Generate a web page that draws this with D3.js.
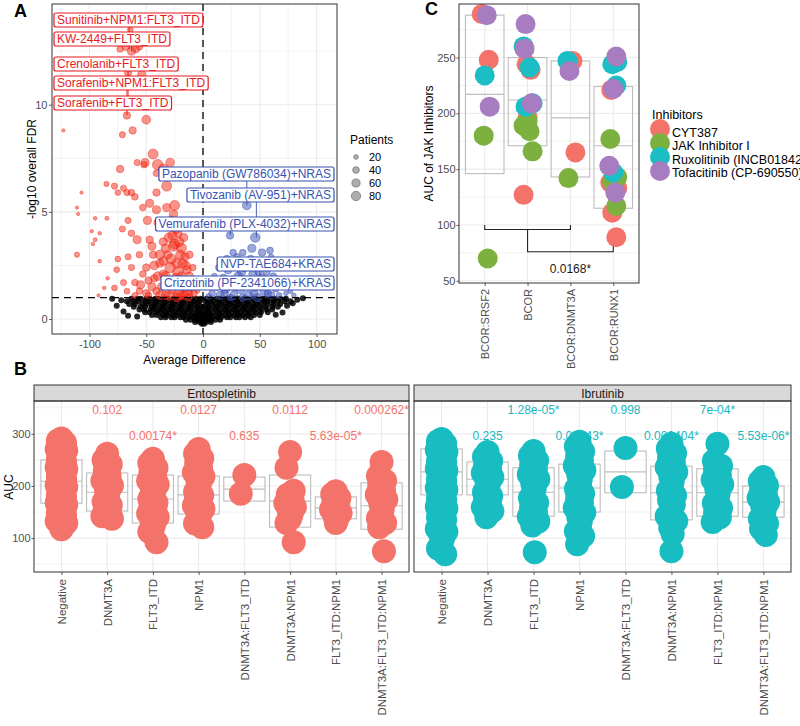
<!DOCTYPE html>
<html>
<head>
<meta charset="utf-8">
<script src="https://cdn.jsdelivr.net/npm/d3@7/dist/d3.min.js"></script>
<style>
  body { margin: 0; background: #fff; }
  svg { font-family: "Liberation Sans", Arial, sans-serif; }
</style>
</head>
<body>
<svg id="fig" width="800" height="726"></svg>
<script>
// ---------------- Panel A: volcano (avg difference, -log10 FDR, patients) ----------------
const redPts = [
  [-64,13.5,30],[-73,12.6,40],[-68,12.7,50],[-63,12.5,60],[-59,12.6,50],[-56,12.7,40],[-61,12.9,30],
  [-66,11.5,50],[-54,11.4,60],[-69,10.9,30],[-67,10.2,40],
  [-123,8.8,10],[-67,9.5,50],[-50,9.3,70],[-71,8.6,35],[-62,8.8,50],[-44,7.7,90],[-52,7.2,40],[-40,7.2,100],[-29,7.3,70],
  [-107,5.9,10],[-85,6.3,25],[-111,5.2,10],[-110,4.9,10],[-95,4.7,12],[-84.6,4.7,15],[-98,4.1,10],[-91,4.0,12],
  [-95,3.7,15],[-97,3.5,12],[-111,3.0,25],[-91,2.7,12],[-84,1.9,12],[-87,1.45,12],[-92,1.1,10],
  [-73,7.0,50],[-78,6.2,35],[-70,6.1,35],[-75,5.9,30],[-67,5.9,35],[-63,5.9,40],[-60,5.7,40],[-58,7.3,35],
  [-51,7.3,60],[-41,6.8,40],[-35,7.0,90],[-32,6.2,90],[-41,5.9,50],[-47,5.4,60],[-53,5.2,40],[-41,5.1,60],
  [-32,5.2,60],[-25,5.3,90],[-26,4.9,60],[-49,4.6,60],[-40,4.5,50],[-31,4.3,60],[-66,4.6,35],[-71,4.2,35],
  [-63,4.0,40],[-58,3.7,60],[-47,3.7,50],[-35,3.6,60],[-26,3.4,90],[-19,3.3,90],[-31,3.0,60],[-44,3.0,50],
  [-56,3.0,40],[-66,2.9,35],[-75,2.8,30],[-76,2.3,30],[-63,2.4,35],[-50,2.4,50],[-38,2.6,60],[-23,2.6,90],
  [-14,2.3,60],[-19,2.0,70],[-35,2.1,60],[-48,1.8,50],[-60,1.7,40],[-70,1.7,35],[-78,1.45,30],[-67,1.3,30],
  [-56,1.3,40],[-41,1.3,50],[-27,1.35,60],[-16,1.45,60],[-11.5,1.2,40],[-60,1.1,30],[-48,1.1,40],[-33,1.1,60],
  [-20,1.1,60],[-30,3.8,80],[-25,3.5,90],[-20,3.0,80],[-15,2.5,70],[-12,2.0,60],[-10,1.5,50],[-8,1.2,40],
  [-28,2.8,90],[-22,2.2,100],[-18,1.7,90],[-14,1.3,80],[-33,2.0,80],[-26,1.6,90],[-21,1.2,100],[-30,1.1,90],
  [-36,1.5,80],[-40,2.0,70],[-38,3.0,80],[-33,3.3,70],[-24,4.2,80],[-17,3.8,60],[-12,3.0,50],[-45,1.5,60],
  [-50,1.2,50],[-55,1.6,60],[-43,2.5,70],[-29,2.4,100],[-16,2.9,60],[-9,2.4,40],[-7,1.8,30],[-5,1.3,20],
  [-23,1.0,70],[-13,1.0,50],[-27,3.9,70],[-21,3.6,80],[-18,2.6,80],[-24,1.9,90],[-31,1.6,80],[-35,2.7,70],
  [-28,4.6,70],[-22,4.0,60],[-11,1.7,50],[-17,1.1,70],[-38,1.1,60],[-43,1.9,50],[-53,2.1,40],[-45,3.4,60]
];
const bluePts = [
  [38.6,5.3,70],[23.8,3.9,50],[46,3.8,80],[35,3.1,40],[43,3.3,60],[59,3.2,40],[52,3.1,50],[26.5,3.1,40],[30,2.9,40],
  [8,1.2,40],[12,1.5,50],[15,1.1,60],[18,1.9,60],[20,1.4,70],[22,2.3,60],[25,1.7,70],[27,1.1,60],[29,2.6,50],
  [31,2.0,70],[33,1.4,80],[36,2.4,60],[38,1.8,70],[40,1.1,80],[42,2.8,50],[44,2.1,60],[46,1.5,70],[48,1.0,60],
  [50,2.5,50],[52,1.9,60],[54,1.3,70],[56,2.2,50],[58,1.6,50],[60,1.1,50],[62,2.0,40],[64,1.4,40],[67,1.1,30],
  [70,1.6,30],[73,1.2,20],[77,1.3,20],[80,1.1,20],[5,1.05,30],[10,2.0,30],[14,2.4,40],[17,2.7,40],[21,2.8,50],
  [47,2.7,60],[55,2.7,40],[35,1.0,50],[24,1.0,40],[65,2.6,30],[60,2.9,30],[28,1.5,60],[34,2.2,60],[41,1.6,70],
  [49,2.2,50],[57,1.2,50],[19,1.2,50],[45,1.2,60]
];
// non-significant drugs (FDR > 0.1), sampled from the dense cloud
const blackRows = [
  [0.95, [-63,-58,-55,-50,-47,-42,-39,-34,-31,-26,-23,-18,-15,-10,-6,-2,3,7,12,15,20,23,28,31,36,39,44,47,52,55,60,63,68,73]],
  [0.83, [-67,-61,-57,-51,-48,-43,-40,-35,-32,-27,-24,-19,-16,-11,-8,-3,2,6,9,14,17,22,25,30,33,38,41,46,49,54,57,62,66,72,77]],
  [0.70, [-65,-60,-53,-49,-44,-41,-36,-33,-28,-25,-20,-17,-12,-8,-4,4,8,13,16,21,24,29,32,37,40,45,48,53,57,62,68]],
  [0.57, [-61,-55,-51,-45,-42,-37,-34,-29,-26,-21,-18,-13,-10,-5,-1,1,5,10,13,18,21,26,29,34,37,42,45,50,55,61,66]],
  [0.44, [-56,-52,-46,-43,-38,-35,-30,-27,-22,-19,-14,-11,-6,-3,3,6,11,14,19,22,27,30,35,38,43,46,51,56,61]],
  [0.31, [-51,-47,-41,-38,-33,-30,-25,-22,-17,-14,-9,-5,-2,2,5,9,14,17,22,25,30,33,38,41,46,51,57]],
  [0.19, [-45,-41,-35,-32,-27,-24,-19,-16,-11,-7,-4,-1,1,4,7,12,15,20,23,28,31,35,40,45,50]],
  [0.08, [-37,-33,-28,-25,-20,-17,-12,-8,-5,-2,2,5,8,13,16,21,24,29,32,37,42]],
  [-0.04, [-15,-11,-7,-4,-1,1,4,7,11,15]],
  [-0.14, [-7,-3,0,3,7]],
  [-0.22, [-1,1]]
];
const blackLoose = [[-72,0.88],[-76,0.62],[-70,0.35],[-80,0.95],[-66,0.15],[74,0.62],[79,0.74],[83,0.9],[70,0.3],[64,0.2],[-58,0.12],[88,0.97]];
const redLabels = [
  ["Sunitinib+NPM1:FLT3_ITD", -65, 12.6],
  ["KW-2449+FLT3_ITD", -63, 12.5],
  ["Crenolanib+FLT3_ITD", -66, 10.0],
  ["Sorafenib+NPM1:FLT3_ITD", -67, 9.5],
  ["Sorafenib+FLT3_ITD", -66.5, 10.0]
];
const blueLabels = [
  ["Pazopanib (GW786034)+NRAS", 38.6, 5.3],
  ["Tivozanib (AV-951)+NRAS", 47, 3.8],
  ["Vemurafenib (PLX-4032)+NRAS", 24, 3.9],
  ["NVP-TAE684+KRAS", 50, 1.9],
  ["Crizotinib (PF-2341066)+KRAS", 55, 1.5]
];
const patientBreaks = [20, 40, 60, 80];

// ---------------- Panel B: AUC by mutation group ----------------
const groups = ["Negative","DNMT3A","FLT3_ITD","NPM1","DNMT3A:FLT3_ITD","DNMT3A:NPM1","FLT3_ITD:NPM1","DNMT3A:FLT3_ITD:NPM1"];
const entoAUC = [
  [291,287,283,280,276,271,268,263,259,255,251,247,244,239,236,232,228,224,221,217,213,209,205,202,198,194,191,187,183,179,176,171,168,164,160,156,153,149,145,141,137,133,129,125,121,117],
  [262,250,241,229,219,210,201,193,186,178,170,163,155,148,142,137],
  [252,244,235,227,218,210,203,196,189,181,175,168,161,154,147,140,133,126,119,112,92],
  [271,262,253,244,235,226,218,211,203,196,189,182,176,169,162,156,149,142,135,128,121],
  [221,185],
  [265,235,191,183,175,167,159,151,144,137,129,92],
  [190,184,177,169,162,155,148,141,135,129],
  [246,219,210,201,192,183,174,165,156,147,138,129,121,75]
];
const ibruAUC = [
  [290,286,281,277,274,269,265,261,257,253,248,245,241,236,233,229,225,221,216,213,209,205,201,196,193,189,185,181,176,173,169,165,160,157,153,149,144,140,135,130,124,118,112,106,98,90,80,69],
  [265,256,248,240,232,225,217,210,203,196,188,181,174,166,159,152,140],
  [267,258,249,240,231,222,213,204,195,186,177,168,159,150,141,132,124,73],
  [285,276,266,257,248,239,230,221,212,203,194,185,176,167,158,149,140,131,122,113,104,88],
  [273,198],
  [281,272,263,254,245,236,227,218,209,200,191,182,173,164,142,133,120,108,75],
  [281,248,239,230,221,212,203,194,185,176,167,158,149,140,131],
  [217,209,201,193,185,177,169,161,153,145,137,128,118,106]
];
// [q1, median, q3]
const entoBox = [[167,209,250],[152,188,225],[129,175,221],[146,183,219],[171,194,217],[121,171,221],[137,158,179],[117,162,206]];
const ibruBox = [[183,227,271],[183,213,246],[142,188,235],[150,196,242],[187,227,267],[135,187,238],[142,187,233],[140,169,200]];
const entoP = ["","0.102","0.00174*","0.0127","0.635","0.0112","5.63e-05*","0.000262*"];
const entoPy = [null,346,296,346,296,346,296,346];
const ibruP = ["","0.235","1.28e-05*","0.00143*","0.998","0.000404*","7e-04*","5.53e-06*"];
const ibruPy = [null,296,346,296,346,296,346,296];

// ---------------- Panel C: JAK inhibitors in BCOR groups ----------------
const bcorGroups = ["BCOR:SRSF2","BCOR","BCOR:DNMT3A","BCOR:RUNX1"];
const inhibitors = ["CYT387","JAK Inhibitor I","Ruxolitinib (INCB018424)","Tofacitinib (CP-690550)"];
const aucCYT387 = [["BCOR:SRSF2",289],["BCOR:SRSF2",248],["BCOR",244],["BCOR",239],["BCOR",196],["BCOR",127],["BCOR:DNMT3A",247],["BCOR:DNMT3A",165],["BCOR:RUNX1",221],["BCOR:RUNX1",138],["BCOR:RUNX1",133],["BCOR:RUNX1",111],["BCOR:RUNX1",89]];
const aucJAKI = [["BCOR:SRSF2",180],["BCOR:SRSF2",70],["BCOR",193],["BCOR",189],["BCOR",184],["BCOR",166],["BCOR:DNMT3A",142],["BCOR:RUNX1",177],["BCOR:RUNX1",143],["BCOR:RUNX1",139],["BCOR:RUNX1",117]];
const aucRuxo = [["BCOR:SRSF2",234],["BCOR",260],["BCOR",241],["BCOR",209],["BCOR",206],["BCOR:DNMT3A",247],["BCOR:RUNX1",246],["BCOR:RUNX1",244],["BCOR:RUNX1",225],["BCOR:RUNX1",147]];
const aucTofa = [["BCOR:SRSF2",288],["BCOR:SRSF2",206],["BCOR",280],["BCOR",258],["BCOR",209],["BCOR:DNMT3A",238],["BCOR:RUNX1",251],["BCOR:RUNX1",222],["BCOR:RUNX1",153],["BCOR:RUNX1",129]];
const bcorBox = [[146,217,288],[171,212,250],[143,196,247],[115,171,224]];

// ---------------- drawing ----------------
const FONT = '"Liberation Sans", Arial, sans-serif';
const TXT = "#4d4d4d", GRID = "#ebebeb", FRAME = "#333";
const svg = d3.select("#fig");
svg.append("rect").attr("width", 800).attr("height", 726).attr("fill", "#fff");
const defs = svg.append("defs");

function clipRect(id, x0, y0, x1, y1) {
  defs.append("clipPath").attr("id", id)
    .append("rect").attr("x", x0).attr("y", y0).attr("width", x1 - x0).attr("height", y1 - y0);
}

function drawGrid(g, xs, ys, xMaj, xMin, yMaj, yMin) {
  const [x0, x1] = xs.range(), [y1, y0] = ys.range();
  const gg = g.append("g");
  xMin.forEach(v => gg.append("line").attr("x1", xs(v)).attr("x2", xs(v)).attr("y1", y0).attr("y2", y1).attr("stroke", GRID).attr("stroke-width", 0.6));
  yMin.forEach(v => gg.append("line").attr("x1", x0).attr("x2", x1).attr("y1", ys(v)).attr("y2", ys(v)).attr("stroke", GRID).attr("stroke-width", 0.6));
  xMaj.forEach(v => gg.append("line").attr("x1", xs(v)).attr("x2", xs(v)).attr("y1", y0).attr("y2", y1).attr("stroke", GRID).attr("stroke-width", 1.1));
  yMaj.forEach(v => gg.append("line").attr("x1", x0).attr("x2", x1).attr("y1", ys(v)).attr("y2", ys(v)).attr("stroke", GRID).attr("stroke-width", 1.1));
}

function frame(g, x0, y0, x1, y1) {
  g.append("rect").attr("x", x0).attr("y", y0).attr("width", x1 - x0).attr("height", y1 - y0)
    .attr("fill", "none").attr("stroke", FRAME).attr("stroke-width", 1);
}

function styleAxis(g, size) {
  g.attr("font-family", FONT).attr("font-size", size || 11);
  g.select(".domain").remove();
  g.selectAll(".tick line").attr("stroke", FRAME).attr("stroke-width", 0.8);
  g.selectAll(".tick text").attr("fill", TXT);
}

function rotateX(g, off) {
  g.selectAll(".tick text")
    .attr("transform", "rotate(-90)")
    .attr("x", -off).attr("y", 0).attr("dy", "0.35em")
    .style("text-anchor", "end");
}

function panelLetter(t, x, y) {
  svg.append("text").attr("x", x).attr("y", y).attr("font-size", 18).attr("font-weight", "bold")
    .attr("fill", "#000").text(t);
}

// ===== A =====
{
  const x0 = 52, x1 = 337, y0 = 4, y1 = 334;
  const ax = d3.scaleLinear().domain([-133, 118]).range([x0, x1]);
  const ay = d3.scaleLinear().domain([-0.7, 14.7]).range([y1, y0]);
  const rA = d3.scaleSqrt().domain([0, 80]).range([0, 4.7]);
  const g = svg.append("g");
  drawGrid(g, ax, ay, [-100, -50, 0, 50, 100], [-125, -75, -25, 25, 75], [0, 5, 10], [2.5, 7.5, 12.5]);
  clipRect("clipA", x0, y0, x1, y1);
  const gp = g.append("g").attr("clip-path", "url(#clipA)");

  const blackPts = blackRows.flatMap(([y, xs]) => xs.map(x => [x, y])).concat(blackLoose);
  gp.append("g").selectAll("circle").data(blackPts).join("circle")
    .attr("cx", d => ax(d[0])).attr("cy", d => ay(d[1])).attr("r", 3)
    .attr("fill", "#000").attr("fill-opacity", 0.85);

  gp.append("g").selectAll("circle").data(redPts).join("circle")
    .attr("cx", d => ax(d[0])).attr("cy", d => ay(d[1])).attr("r", d => rA(d[2]))
    .attr("fill", "#f52a14").attr("fill-opacity", 0.5)
    .attr("stroke", "#e8251a").attr("stroke-opacity", 0.55).attr("stroke-width", 0.8);

  gp.append("g").selectAll("circle").data(bluePts).join("circle")
    .attr("cx", d => ax(d[0])).attr("cy", d => ay(d[1])).attr("r", d => rA(d[2]))
    .attr("fill", "#3a4fb5").attr("fill-opacity", 0.5)
    .attr("stroke", "#3a4fb5").attr("stroke-opacity", 0.6).attr("stroke-width", 0.8);

  // thresholds
  gp.append("line").attr("x1", ax(0)).attr("x2", ax(0)).attr("y1", y0).attr("y2", y1)
    .attr("stroke", "#000").attr("stroke-width", 1.3).attr("stroke-dasharray", "7,5");
  gp.append("line").attr("x1", x0).attr("x2", x1).attr("y1", ay(1)).attr("y2", ay(1))
    .attr("stroke", "#000").attr("stroke-width", 1.3).attr("stroke-dasharray", "7,5");

  // repel-style labels
  const redTops = [13, 32, 57, 76, 96];
  const blueTops = [167, 188, 217, 257, 276];
  const lh = 14;
  const gl = g.append("g");
  redLabels.forEach((d, i) => {
    const px = ax(d[1]), py = ay(d[2]);
    if (py > redTops[i] + lh) gl.append("line").attr("x1", px).attr("x2", px).attr("y1", redTops[i] + lh).attr("y2", py).attr("stroke", "#e8191f").attr("stroke-width", 0.9);
  });
  blueLabels.forEach((d, i) => {
    const px = ax(d[1]), py = ay(d[2]);
    if (py > blueTops[i] + lh) gl.append("line").attr("x1", px).attr("x2", px).attr("y1", blueTops[i] + lh).attr("y2", py).attr("stroke", "#3852b0").attr("stroke-width", 0.9);
  });
  function label(txt, top, left, right, col) {
    const lg = gl.append("g");
    const r = lg.append("rect").attr("fill", "#fff").attr("stroke", col).attr("stroke-width", 1.2).attr("rx", 2);
    const t = lg.append("text").attr("font-size", 12).attr("fill", col).text(txt);
    const w = t.node().getComputedTextLength();
    const bx = left != null ? left : right - w - 6;
    r.attr("x", bx).attr("y", top).attr("width", w + 6).attr("height", lh);
    t.attr("x", bx + 3).attr("y", top + 11);
  }
  redLabels.forEach((d, i) => label(d[0], redTops[i], 54, null, "#e8191f"));
  blueLabels.forEach((d, i) => label(d[0], blueTops[i], null, 334, "#3852b0"));

  frame(g, x0, y0, x1, y1);
  const gx = g.append("g").attr("transform", `translate(0,${y1})`)
    .call(d3.axisBottom(ax).tickValues([-100, -50, 0, 50, 100]).tickSize(3).tickPadding(3).tickFormat(d => String(d)));
  styleAxis(gx, 11);
  const gy = g.append("g").attr("transform", `translate(${x0},0)`)
    .call(d3.axisLeft(ay).tickValues([0, 5, 10]).tickSize(3).tickPadding(1.5).tickFormat(d => String(d)));
  styleAxis(gy, 11);
  g.append("text").attr("x", (x0 + x1) / 2).attr("y", 364).attr("text-anchor", "middle")
    .attr("font-size", 12).attr("fill", "#000").text("Average Difference");
  g.append("text").attr("transform", `translate(36,${(y0 + y1) / 2}) rotate(-90)`).attr("text-anchor", "middle")
    .attr("font-size", 12).attr("fill", "#000").text("-log10 overall FDR");

  // size legend
  const lgd = g.append("g");
  lgd.append("text").attr("x", 350).attr("y", 144).attr("font-size", 12).attr("fill", "#000").text("Patients");
  patientBreaks.forEach((p, i) => {
    const cy = 157 + i * 13;
    lgd.append("circle").attr("cx", 356).attr("cy", cy).attr("r", rA(p))
      .attr("fill", "#999").attr("fill-opacity", 0.8).attr("stroke", "#7a7a7a").attr("stroke-width", 0.8);
    lgd.append("text").attr("x", 369).attr("y", cy).attr("dy", "0.35em").attr("font-size", 11).attr("fill", "#000").text(p);
  });
}
panelLetter("A", 14, 17);

// ===== B =====
{
  const yb = d3.scaleLinear().domain([35, 363]).range([572, 401]);
  const facets = [
    { name: "Entospletinib", x0: 34, x1: 409, auc: entoAUC, box: entoBox, p: entoP, py: entoPy, col: "#f3736b", pcol: "#f3736b" },
    { name: "Ibrutinib", x0: 414, x1: 791, auc: ibruAUC, box: ibruBox, p: ibruP, py: ibruPy, col: "#18bdc2", pcol: "#18b9c2" }
  ];
  const jit = [0, -3, 3, -2, 2, -4, 4, -1, 1];
  facets.forEach((f, k) => {
    const xb = d3.scalePoint().domain(groups).range([f.x0, f.x1]).padding(0.6);
    const step = xb.step();
    const g = svg.append("g");
    drawGrid(g, xb, yb, groups, [], [100, 200, 300], [50, 150, 250, 350]);
    const cid = "clipB" + k;
    clipRect(cid, f.x0, 401, f.x1, 572);
    const gp = g.append("g").attr("clip-path", `url(#${cid})`);
    // boxes
    f.box.forEach((b, i) => {
      const cx = xb(groups[i]), hw = step * 0.45;
      gp.append("rect").attr("x", cx - hw).attr("y", yb(b[2])).attr("width", 2 * hw).attr("height", yb(b[0]) - yb(b[2]))
        .attr("fill", "none").attr("stroke", "#bdbdbd").attr("stroke-width", 1.1);
      gp.append("line").attr("x1", cx - hw).attr("x2", cx + hw).attr("y1", yb(b[1])).attr("y2", yb(b[1]))
        .attr("stroke", "#bdbdbd").attr("stroke-width", 1.1);
    });
    // p-values
    f.p.forEach((t, i) => {
      if (!t) return;
      gp.append("text").attr("x", xb(groups[i])).attr("y", yb(f.py[i])).attr("dy", "0.35em")
        .attr("text-anchor", "middle").attr("font-size", 12).attr("fill", f.pcol).text(t);
    });
    // points
    const pts = f.auc.flatMap((vals, i) => vals.map((v, j) => [groups[i], v, j]));
    gp.append("g").selectAll("circle").data(pts).join("circle")
      .attr("cx", d => xb(d[0]) + jit[d[2] % jit.length] * 1.2)
      .attr("cy", d => yb(d[1])).attr("r", 12).attr("fill", f.col);
    // strip
    g.append("rect").attr("x", f.x0).attr("y", 385).attr("width", f.x1 - f.x0).attr("height", 16)
      .attr("fill", "#d9d9d9").attr("stroke", FRAME).attr("stroke-width", 1);
    g.append("text").attr("x", (f.x0 + f.x1) / 2).attr("y", 397.5).attr("text-anchor", "middle")
      .attr("font-size", 12).attr("fill", "#1a1a1a").text(f.name);
    frame(g, f.x0, 401, f.x1, 572);
    const gx = g.append("g").attr("transform", "translate(0,572)")
      .call(d3.axisBottom(xb).tickSize(3));
    styleAxis(gx, 11.5);
    rotateX(gx, 7);
    if (k === 0) {
      const gy = g.append("g").attr("transform", `translate(${f.x0},0)`)
        .call(d3.axisLeft(yb).tickValues([100, 200, 300]).tickSize(2.5).tickPadding(1).tickFormat(d => String(d)));
      styleAxis(gy, 11);
    }
  });
  svg.append("text").attr("transform", `translate(13,487) rotate(-90)`).attr("text-anchor", "middle")
    .attr("font-size", 12).attr("fill", "#000").text("AUC");
}
panelLetter("B", 14, 375);

// ===== C =====
{
  const x0 = 459, x1 = 639, y0 = 4, y1 = 283;
  const xc = d3.scalePoint().domain(bcorGroups).range([x0, x1]).padding(0.6);
  const yc = d3.scaleLinear().domain([48, 298]).range([y1, y0]);
  const step = xc.step();
  const colors = d3.scaleOrdinal().domain(inhibitors).range(["#f3736b", "#7cb03f", "#1abec4", "#a87cc0"]);
  const g = svg.append("g");
  drawGrid(g, xc, yc, bcorGroups, [], [50, 100, 150, 200, 250], [75, 125, 175, 225, 275]);
  bcorBox.forEach((b, i) => {
    const cx = xc(bcorGroups[i]), hw = step * 0.45;
    g.append("rect").attr("x", cx - hw).attr("y", yc(b[2])).attr("width", 2 * hw).attr("height", yc(b[0]) - yc(b[2]))
      .attr("fill", "none").attr("stroke", "#bdbdbd").attr("stroke-width", 1.1);
    g.append("line").attr("x1", cx - hw).attr("x2", cx + hw).attr("y1", yc(b[1])).attr("y2", yc(b[1]))
      .attr("stroke", "#bdbdbd").attr("stroke-width", 1.1);
  });
  const jitC = [-3, 4, -1, 3, 0, -4, 2, 5, -2];
  const series = [aucCYT387, aucJAKI, aucRuxo, aucTofa];
  series.forEach((s, k) => {
    g.append("g").selectAll("circle").data(s).join("circle")
      .attr("cx", (d, j) => xc(d[0]) + jitC[(j + k * 2) % jitC.length])
      .attr("cy", d => yc(d[1])).attr("r", 10).attr("fill", colors(inhibitors[k]));
  });
  // comparison brackets
  const br = g.append("g").attr("fill", "none").attr("stroke", "#222").attr("stroke-width", 1.1);
  const xa = xc("BCOR:SRSF2"), xbb = xc("BCOR"), xd = xc("BCOR:DNMT3A"), xr = xc("BCOR:RUNX1");
  br.append("path").attr("d", `M${xa},${yc(100)}V${yc(96)}H${xd}V${yc(100)}`);
  br.append("path").attr("d", `M${xbb},${yc(96)}V${yc(76)}H${xr}V${yc(81)}`);
  g.append("text").attr("x", (xbb + xr) / 2).attr("y", yc(61)).attr("dy", "0.35em").attr("text-anchor", "middle")
    .attr("font-size", 12).attr("fill", "#1a1a1a").text("0.0168*");

  frame(g, x0, y0, x1, y1);
  const gx = g.append("g").attr("transform", `translate(0,${y1})`).call(d3.axisBottom(xc).tickSize(3));
  styleAxis(gx, 11);
  rotateX(gx, 6);
  const gy = g.append("g").attr("transform", `translate(${x0},0)`)
    .call(d3.axisLeft(yc).tickValues([50, 100, 150, 200, 250]).tickSize(2.5).tickPadding(1).tickFormat(d => String(d)));
  styleAxis(gy, 11);
  g.append("text").attr("transform", `translate(433,${(y0 + y1) / 2}) rotate(-90)`).attr("text-anchor", "middle")
    .attr("font-size", 12).attr("fill", "#000").text("AUC of JAK Inhibitors");

  // legend
  const lg = g.append("g");
  lg.append("text").attr("x", 652).attr("y", 119).attr("font-size", 12.5).attr("fill", "#000").text("Inhibitors");
  inhibitors.forEach((n, i) => {
    lg.append("circle").attr("cx", 660).attr("cy", 129 + i * 14).attr("r", 10).attr("fill", colors(n));
  });
  inhibitors.forEach((n, i) => {
    lg.append("text").attr("x", 672).attr("y", 137 + i * 13.4).attr("font-size", 12.5).attr("fill", "#000").text(n);
  });
}
panelLetter("C", 425, 15);
</script>
</body>
</html>
